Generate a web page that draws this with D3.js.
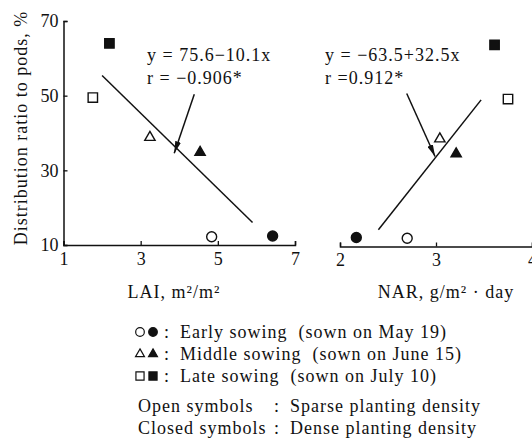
<!DOCTYPE html>
<html>
<head>
<meta charset="utf-8">
<script src="https://cdn.jsdelivr.net/npm/d3@7"></script>
<style>
  html, body { margin: 0; padding: 0; background: #fff; }
  svg { display: block; }
  text { font-family: "Liberation Serif", "Times New Roman", serif; fill: #111; letter-spacing: 1px; }
</style>
</head>
<body>
<svg id="chart" width="532" height="439"></svg>
<script>
// Treatments: sowing time x planting density
const sowing  = ["early", "early", "middle", "middle", "late", "late"];
const density = ["sparse", "dense", "sparse", "dense", "sparse", "dense"];
// Distribution ratio to pods (%)
const ratio   = [12.2, 12.4, 39.1, 35.1, 49.5, 64.0];
// Leaf area index (m2/m2)
const lai     = [4.84, 6.42, 3.24, 4.54, 1.76, 2.19];
// Net assimilation rate (g/m2/day)
const nar     = [2.70, 2.17, 3.04, 3.21, 3.75, 3.61];

// Regression fits
const fitLai = { a: 75.6, b: -10.1, r: -0.906, from: 2.0, to: 5.9 };
const fitNar = { a: -63.5, b: 32.5, r: 0.912, from: 2.40, to: 3.47 };

// Tick values
const yTicks    = [10, 30, 50, 70];
const laiTicks  = [1, 3, 5, 7];
const narTicks  = [2, 3, 4];

// Legend entries
const legendSowing = [
  { sow: "early",  text: "Early sowing  (sown on May 19)" },
  { sow: "middle", text: "Middle sowing  (sown on June 15)" },
  { sow: "late",   text: "Late sowing  (sown on July 10)" }
];
const legendDensity = [
  { name: "Open symbols", text: "Sparse planting density" },
  { name: "Closed symbols", text: "Dense planting density" }
];

const FONT = "'Liberation Serif', 'Times New Roman', serif";
const svg = d3.select("#chart");

const xL = d3.scaleLinear().domain([1, 7]).range([63.5, 295]);
const y  = d3.scaleLinear().domain([10, 70]).range([245, 21]);
const xR = d3.scaleLinear().domain([2, 4]).range([340, 532]);
const yR = d3.scaleLinear().domain([10, 70]).range([246.5, 22.5]);

const shapeOf = { early: d3.symbolCircle, middle: d3.symbolTriangle, late: d3.symbolSquare };
const sizeOf  = { early: 78, middle: 46, late: 88 };

// arrowhead
svg.append("defs").append("marker")
  .attr("id", "arrowhead")
  .attr("viewBox", "0 0 12 6")
  .attr("refX", 12).attr("refY", 3)
  .attr("markerWidth", 12).attr("markerHeight", 6)
  .attr("markerUnits", "userSpaceOnUse")
  .attr("orient", "auto")
  .append("path").attr("d", "M0,0 L12,3 L0,6 Z").attr("fill", "#111");

function styleAxis(g) {
  g.attr("font-family", null).attr("font-size", null);
  g.select(".domain").attr("stroke", "#111").attr("stroke-width", 1.5);
  g.selectAll(".tick line").attr("stroke", "#111").attr("stroke-width", 1.3);
  g.selectAll(".tick text")
    .attr("fill", "#111")
    .style("font-family", FONT)
    .style("font-size", "18px")
    .style("letter-spacing", "0px");
}

// ---- Left panel: LAI ----
const gyL = svg.append("g").attr("transform", `translate(${xL.range()[0]},0)`)
  .call(d3.axisLeft(y).tickValues(yTicks).tickFormat(d3.format("d"))
    .tickSizeInner(-4).tickSizeOuter(-4).tickPadding(5));
styleAxis(gyL);

const gxL = svg.append("g").attr("transform", `translate(0,${y.range()[0]})`)
  .call(d3.axisBottom(xL).tickValues(laiTicks).tickFormat(d3.format("d"))
    .tickSizeInner(-4).tickSizeOuter(-4).tickPadding(7));
styleAxis(gxL);

// ---- Right panel: NAR ----
const gxR = svg.append("g").attr("transform", `translate(0,${yR.range()[0]})`)
  .call(d3.axisBottom(xR).tickValues(narTicks).tickFormat(d3.format("d"))
    .tickSizeInner(-4).tickSizeOuter(-4).tickPadding(7));
styleAxis(gxR);

// regression lines
function fitLine(fit, xs, ys) {
  const pts = [fit.from, fit.to].map(v => [xs(v), ys(fit.a + fit.b * v)]);
  svg.append("path").attr("d", d3.line()(pts))
    .attr("fill", "none").attr("stroke", "#111").attr("stroke-width", 1.5);
}
fitLine(fitLai, xL, y);
fitLine(fitNar, xR, yR);

// points
function drawPoints(xvals, xs, ys) {
  svg.append("g").selectAll("path").data(d3.range(ratio.length)).join("path")
    .attr("transform", i => `translate(${xs(xvals[i])},${ys(ratio[i]) + (sowing[i] === "middle" ? 1 : 0)})`)
    .attr("d", i => d3.symbol(shapeOf[sowing[i]], sizeOf[sowing[i]])())
    .attr("fill", i => density[i] === "dense" ? "#111" : "#fff")
    .attr("stroke", "#111").attr("stroke-width", 1.4);
}
drawPoints(lai, xL, y);
drawPoints(nar, xR, yR);

// arrows pointing at fits
function arrow(xs, ys, from, to) {
  svg.append("line")
    .attr("x1", xs(from[0])).attr("y1", ys(from[1]))
    .attr("x2", xs(to[0])).attr("y2", ys(to[1]))
    .attr("stroke", "#111").attr("stroke-width", 1.5)
    .attr("marker-end", "url(#arrowhead)");
}
arrow(xL, y, [4.39, 50.4], [3.87, 34.6]);
arrow(xR, yR, [2.695, 51.0], [2.99, 34.1]);

// fit annotations
const fmt1 = d3.format(".1f");
const minus = s => s.replace("-", "\u2212");
const note = (x, yy, t) => svg.append("text").attr("x", x).attr("y", yy)
  .style("font-size", "18px").text(t);
note(147, 61, `y = ${fmt1(fitLai.a)}${minus(fmt1(fitLai.b))}x`);
note(147, 84, `r = ${minus(d3.format(".3f")(fitLai.r))}*`);
note(325, 61, `y = ${minus(fmt1(fitNar.a))}+${fmt1(fitNar.b)}x`);
note(325, 84, `r =${d3.format(".3f")(fitNar.r)}*`);

// axis titles
svg.append("text")
  .attr("transform", "translate(27,128) rotate(-90)")
  .attr("text-anchor", "middle").style("font-size", "18px")
  .text("Distribution ratio to pods, %");
svg.append("text").attr("x", 174).attr("y", 298).attr("text-anchor", "middle")
  .style("font-size", "18px").text("LAI, m²/m²");
svg.append("text").attr("x", 446).attr("y", 298).attr("text-anchor", "middle")
  .style("font-size", "18px").text("NAR, g/m² · day");

// legend
const lg = svg.append("g");
legendSowing.forEach((d, i) => {
  const cy = 332 + i * 22;
  ["sparse", "dense"].forEach((den, j) => {
    lg.append("path")
      .attr("transform", `translate(${140 + j * 13},${cy})`)
      .attr("d", d3.symbol(shapeOf[d.sow], sizeOf[d.sow] * 0.75)())
      .attr("fill", den === "dense" ? "#111" : "#fff")
      .attr("stroke", "#111").attr("stroke-width", 1.2);
  });
  lg.append("text").attr("x", 164).attr("y", cy + 6).style("font-size", "18px").text(":");
  lg.append("text").attr("x", 180).attr("y", cy + 6).style("font-size", "18px")
    .style("white-space", "pre").text(d.text);
});
legendDensity.forEach((d, i) => {
  const cy = 406 + i * 22;
  lg.append("text").attr("x", 138).attr("y", cy + 6).style("font-size", "18px").text(d.name);
  lg.append("text").attr("x", 274).attr("y", cy + 6).style("font-size", "18px").text(":");
  lg.append("text").attr("x", 290).attr("y", cy + 6).style("font-size", "18px").text(d.text);
});
</script>
</body>
</html>
